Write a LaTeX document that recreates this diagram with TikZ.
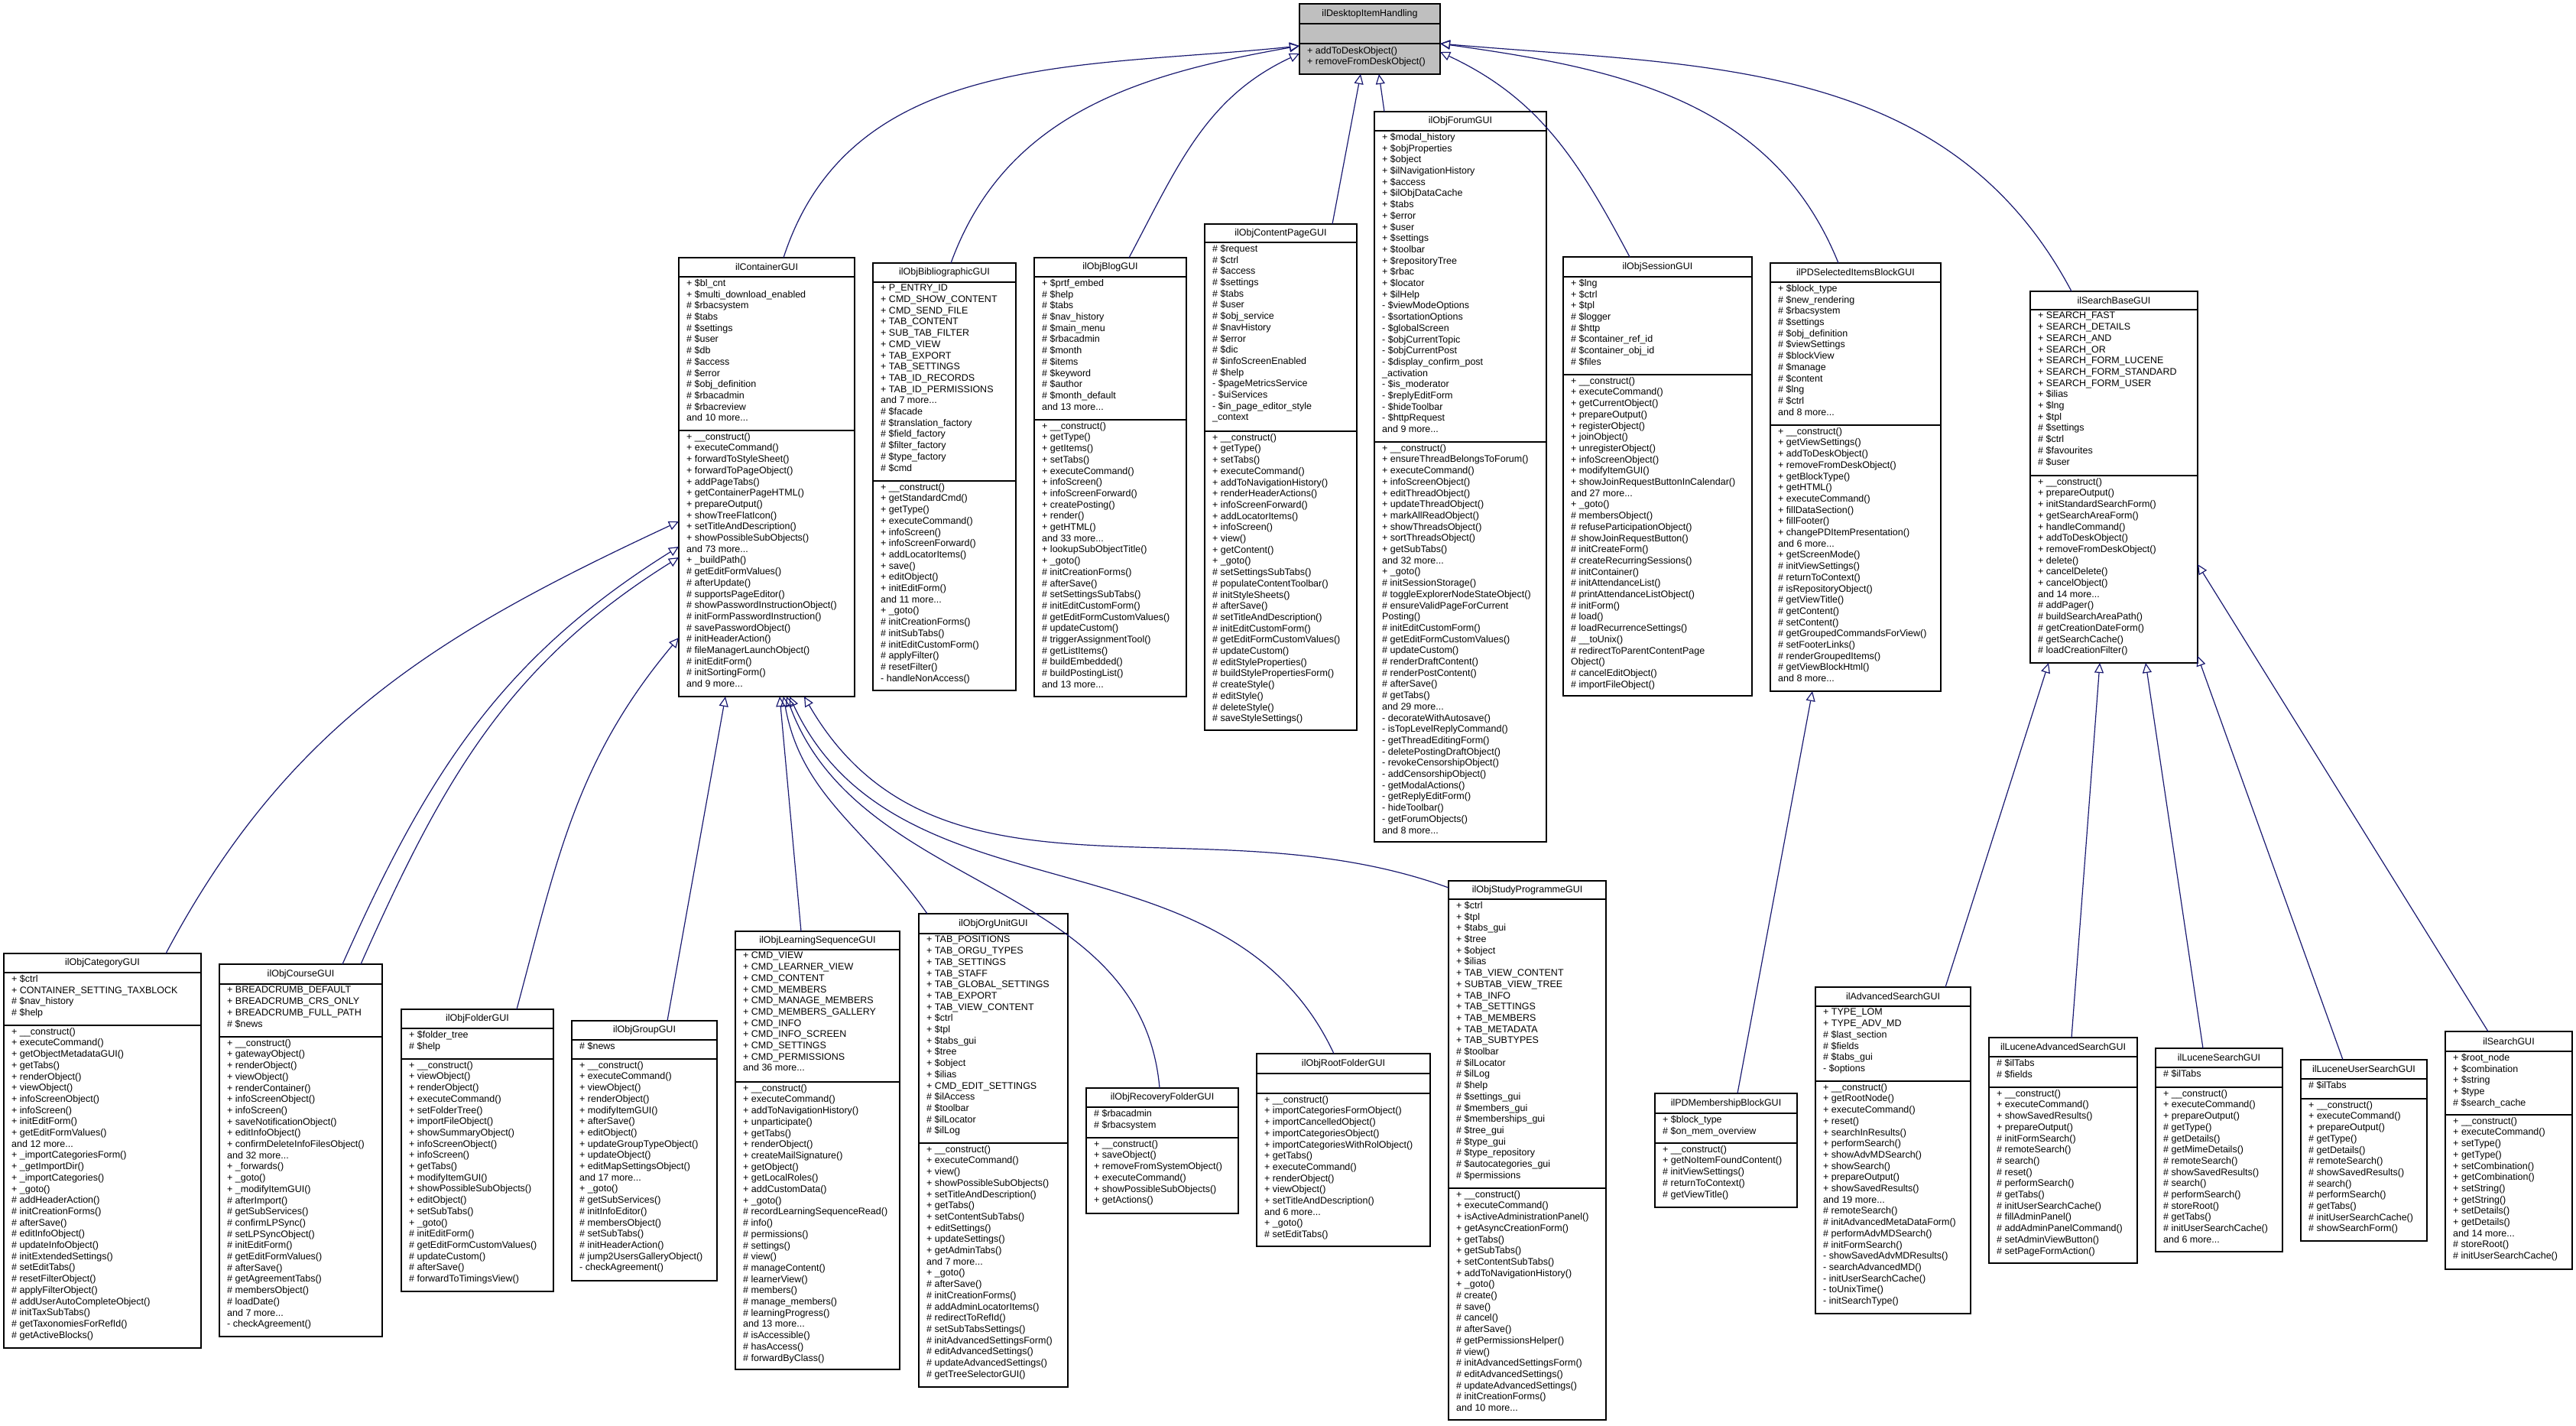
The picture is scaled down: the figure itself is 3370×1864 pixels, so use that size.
\documentclass[tikz,border=0pt]{standalone}
\usepackage{fontspec}
\setmainfont{Liberation Sans}
\usetikzlibrary{arrows.meta}
\definecolor{edgeblue}{HTML}{191970}
\definecolor{topgray}{HTML}{BFBFBF}
\tikzset{
  clsbox/.style={draw=black, line width=1.3pt, fill=white, inner sep=0pt, outer sep=0pt},
  clstitle/.style={inner sep=0pt, font=\fontsize{12.5}{14.7}\selectfont},
  clstext/.style={inner sep=0pt, align=left, anchor=north west, font=\fontsize{12.5}{14.7}\selectfont},
  inh/.style={draw=edgeblue, line width=1.2pt, -{Triangle[open, length=13pt, width=12pt]}}
}
\newcommand\uclass[8]{%
  \node[clsbox, minimum width={(#4-#2)*1pt}, minimum height={(#5-#3)*1pt}, anchor=north west] (#1) at (#2,#3) {};
  \draw[line width=1.3pt] (#2,#6) -- (#4,#6);
  \draw[line width=1.3pt] (#2,#7) -- (#4,#7);
  \node[clstitle] (#1-t) at ({(#2+#4)/2},{(#3+#6)/2}) {#8};
  \coordinate (#1-h) at (#2,#6);
  \coordinate (#1-a) at (#2,#7);
}
\newcommand\utext[3]{%
  \node[clstext] (#1-at) at ([xshift=10pt,yshift=-3pt]#1-h) {#2};
  \node[clstext] (#1-mt) at ([xshift=10pt,yshift=-3pt]#1-a) {#3};
}
\begin{document}
\begin{tikzpicture}[x=1pt,y=-1pt]
\useasboundingbox (0,0) rectangle (3370,1864);

% top class
\node[clsbox, fill=topgray, minimum width=184pt, minimum height=92pt, anchor=north west] (top) at (1700,5) {};
\draw[line width=1.3pt] (1700,31) -- (1884,31);
\draw[line width=1.3pt] (1700,57) -- (1884,57);
\node[clstitle] (top-t) at (1792,18) {ilDesktopItemHandling};
\node[clstext] (top-mt) at (1710,61) {+ addToDeskObject()\\+ removeFromDeskObject()};

% ilContainerGUI
\uclass{cont}{888}{337}{1118}{911}{362}{563}{ilContainerGUI}
\utext{cont}{+ \$bl\_cnt\\+ \$multi\_download\_enabled\\\# \$rbacsystem\\\# \$tabs\\\# \$settings\\\# \$user\\\# \$db\\\# \$access\\\# \$error\\\# \$obj\_definition\\\# \$rbacadmin\\\# \$rbacreview\\and 10 more...}
{+ \_\_construct()\\+ executeCommand()\\+ forwardToStyleSheet()\\+ forwardToPageObject()\\+ addPageTabs()\\+ getContainerPageHTML()\\+ prepareOutput()\\+ showTreeFlatIcon()\\+ setTitleAndDescription()\\+ showPossibleSubObjects()\\and 73 more...\\+ \_buildPath()\\\# getEditFormValues()\\\# afterUpdate()\\\# supportsPageEditor()\\\# showPasswordInstructionObject()\\\# initFormPasswordInstruction()\\\# savePasswordObject()\\\# initHeaderAction()\\\# fileManagerLaunchObject()\\\# initEditForm()\\\# initSortingForm()\\and 9 more...}

% ilObjBibliographicGUI
\uclass{bib}{1142}{344}{1329}{903}{369}{629}{ilObjBibliographicGUI}
\utext{bib}{+ P\_ENTRY\_ID\\+ CMD\_SHOW\_CONTENT\\+ CMD\_SEND\_FILE\\+ TAB\_CONTENT\\+ SUB\_TAB\_FILTER\\+ CMD\_VIEW\\+ TAB\_EXPORT\\+ TAB\_SETTINGS\\+ TAB\_ID\_RECORDS\\+ TAB\_ID\_PERMISSIONS\\and 7 more...\\\# \$facade\\\# \$translation\_factory\\\# \$field\_factory\\\# \$filter\_factory\\\# \$type\_factory\\\# \$cmd}
{+ \_\_construct()\\+ getStandardCmd()\\+ getType()\\+ executeCommand()\\+ infoScreen()\\+ infoScreenForward()\\+ addLocatorItems()\\+ save()\\+ editObject()\\+ initEditForm()\\and 11 more...\\+ \_goto()\\\# initCreationForms()\\\# initSubTabs()\\\# initEditCustomForm()\\\# applyFilter()\\\# resetFilter()\\- handleNonAccess()}

% ilObjBlogGUI
\uclass{blog}{1353}{337}{1552}{911}{362}{549}{ilObjBlogGUI}
\utext{blog}{+ \$prtf\_embed\\\# \$help\\\# \$tabs\\\# \$nav\_history\\\# \$main\_menu\\\# \$rbacadmin\\\# \$month\\\# \$items\\\# \$keyword\\\# \$author\\\# \$month\_default\\and 13 more...}
{+ \_\_construct()\\+ getType()\\+ getItems()\\+ setTabs()\\+ executeCommand()\\+ infoScreen()\\+ infoScreenForward()\\+ createPosting()\\+ render()\\+ getHTML()\\and 33 more...\\+ lookupSubObjectTitle()\\+ \_goto()\\\# initCreationForms()\\\# afterSave()\\\# setSettingsSubTabs()\\\# initEditCustomForm()\\\# getEditFormCustomValues()\\\# updateCustom()\\\# triggerAssignmentTool()\\\# getListItems()\\\# buildEmbedded()\\\# buildPostingList()\\and 13 more...}

% ilObjContentPageGUI
\uclass{cpage}{1576}{293}{1775}{955}{317}{564}{ilObjContentPageGUI}
\utext{cpage}{\# \$request\\\# \$ctrl\\\# \$access\\\# \$settings\\\# \$tabs\\\# \$user\\\# \$obj\_service\\\# \$navHistory\\\# \$error\\\# \$dic\\\# \$infoScreenEnabled\\\# \$help\\- \$pageMetricsService\\- \$uiServices\\- \$in\_page\_editor\_style\\\_context}
{+ \_\_construct()\\+ getType()\\+ setTabs()\\+ executeCommand()\\+ addToNavigationHistory()\\+ renderHeaderActions()\\+ infoScreenForward()\\+ addLocatorItems()\\+ infoScreen()\\+ view()\\+ getContent()\\+ \_goto()\\\# setSettingsSubTabs()\\\# populateContentToolbar()\\\# initStyleSheets()\\\# afterSave()\\\# setTitleAndDescription()\\\# initEditCustomForm()\\\# getEditFormCustomValues()\\\# updateCustom()\\\# editStyleProperties()\\\# buildStylePropertiesForm()\\\# createStyle()\\\# editStyle()\\\# deleteStyle()\\\# saveStyleSettings()}

% ilObjForumGUI
\uclass{forum}{1798}{146}{2023}{1101}{171}{578}{ilObjForumGUI}
\utext{forum}{+ \$modal\_history\\+ \$objProperties\\+ \$object\\+ \$ilNavigationHistory\\+ \$access\\+ \$ilObjDataCache\\+ \$tabs\\+ \$error\\+ \$user\\+ \$settings\\+ \$toolbar\\+ \$repositoryTree\\+ \$rbac\\+ \$locator\\+ \$ilHelp\\- \$viewModeOptions\\- \$sortationOptions\\- \$globalScreen\\- \$objCurrentTopic\\- \$objCurrentPost\\- \$display\_confirm\_post\\\_activation\\- \$is\_moderator\\- \$replyEditForm\\- \$hideToolbar\\- \$httpRequest\\and 9 more...}
{+ \_\_construct()\\+ ensureThreadBelongsToForum()\\+ executeCommand()\\+ infoScreenObject()\\+ editThreadObject()\\+ updateThreadObject()\\+ markAllReadObject()\\+ showThreadsObject()\\+ sortThreadsObject()\\+ getSubTabs()\\and 32 more...\\+ \_goto()\\\# initSessionStorage()\\\# toggleExplorerNodeStateObject()\\\# ensureValidPageForCurrent\\Posting()\\\# initEditCustomForm()\\\# getEditFormCustomValues()\\\# updateCustom()\\\# renderDraftContent()\\\# renderPostContent()\\\# afterSave()\\\# getTabs()\\and 29 more...\\- decorateWithAutosave()\\- isTopLevelReplyCommand()\\- getThreadEditingForm()\\- deletePostingDraftObject()\\- revokeCensorshipObject()\\- addCensorshipObject()\\- getModalActions()\\- getReplyEditForm()\\- hideToolbar()\\- getForumObjects()\\and 8 more...}

% ilObjSessionGUI
\uclass{sess}{2045}{336}{2292}{910}{362}{490}{ilObjSessionGUI}
\utext{sess}{+ \$lng\\+ \$ctrl\\+ \$tpl\\\# \$logger\\\# \$http\\\# \$container\_ref\_id\\\# \$container\_obj\_id\\\# \$files}
{+ \_\_construct()\\+ executeCommand()\\+ getCurrentObject()\\+ prepareOutput()\\+ registerObject()\\+ joinObject()\\+ unregisterObject()\\+ infoScreenObject()\\+ modifyItemGUI()\\+ showJoinRequestButtonInCalendar()\\and 27 more...\\+ \_goto()\\\# membersObject()\\\# refuseParticipationObject()\\\# showJoinRequestButton()\\\# initCreateForm()\\\# createRecurringSessions()\\\# initContainer()\\\# initAttendanceList()\\\# printAttendanceListObject()\\\# initForm()\\\# load()\\\# loadRecurrenceSettings()\\\# \_\_toUnix()\\\# redirectToParentContentPage\\Object()\\\# cancelEditObject()\\\# importFileObject()}

% ilPDSelectedItemsBlockGUI
\uclass{pdsel}{2316}{344}{2539}{904}{369}{556}{ilPDSelectedItemsBlockGUI}
\utext{pdsel}{+ \$block\_type\\\# \$new\_rendering\\\# \$rbacsystem\\\# \$settings\\\# \$obj\_definition\\\# \$viewSettings\\\# \$blockView\\\# \$manage\\\# \$content\\\# \$lng\\\# \$ctrl\\and 8 more...}
{+ \_\_construct()\\+ getViewSettings()\\+ addToDeskObject()\\+ removeFromDeskObject()\\+ getBlockType()\\+ getHTML()\\+ executeCommand()\\+ fillDataSection()\\+ fillFooter()\\+ changePDItemPresentation()\\and 6 more...\\+ getScreenMode()\\\# initViewSettings()\\\# returnToContext()\\\# isRepositoryObject()\\\# getViewTitle()\\\# getContent()\\\# setContent()\\\# getGroupedCommandsForView()\\\# setFooterLinks()\\\# renderGroupedItems()\\\# getViewBlockHtml()\\and 8 more...}

% ilSearchBaseGUI
\uclass{sbase}{2656}{381}{2875}{867}{405}{622}{ilSearchBaseGUI}
\utext{sbase}{+ SEARCH\_FAST\\+ SEARCH\_DETAILS\\+ SEARCH\_AND\\+ SEARCH\_OR\\+ SEARCH\_FORM\_LUCENE\\+ SEARCH\_FORM\_STANDARD\\+ SEARCH\_FORM\_USER\\+ \$ilias\\+ \$lng\\+ \$tpl\\\# \$settings\\\# \$ctrl\\\# \$favourites\\\# \$user}
{+ \_\_construct()\\+ prepareOutput()\\+ initStandardSearchForm()\\+ getSearchAreaForm()\\+ handleCommand()\\+ addToDeskObject()\\+ removeFromDeskObject()\\+ delete()\\+ cancelDelete()\\+ cancelObject()\\and 14 more...\\\# addPager()\\\# buildSearchAreaPath()\\\# getCreationDateForm()\\\# getSearchCache()\\\# loadCreationFilter()}

% ilObjCategoryGUI
\uclass{cat}{5}{1247}{263}{1763}{1272}{1341}{ilObjCategoryGUI}
\utext{cat}{+ \$ctrl\\+ CONTAINER\_SETTING\_TAXBLOCK\\\# \$nav\_history\\\# \$help}
{+ \_\_construct()\\+ executeCommand()\\+ getObjectMetadataGUI()\\+ getTabs()\\+ renderObject()\\+ viewObject()\\+ infoScreenObject()\\+ infoScreen()\\+ initEditForm()\\+ getEditFormValues()\\and 12 more...\\+ \_importCategoriesForm()\\+ \_getImportDir()\\+ \_importCategories()\\+ \_goto()\\\# addHeaderAction()\\\# initCreationForms()\\\# afterSave()\\\# editInfoObject()\\\# updateInfoObject()\\\# initExtendedSettings()\\\# setEditTabs()\\\# resetFilterObject()\\\# applyFilterObject()\\\# addUserAutoCompleteObject()\\\# initTaxSubTabs()\\\# getTaxonomiesForRefId()\\\# getActiveBlocks()}

% ilObjCourseGUI
\uclass{crs}{287}{1261}{500}{1748}{1287}{1356}{ilObjCourseGUI}
\utext{crs}{+ BREADCRUMB\_DEFAULT\\+ BREADCRUMB\_CRS\_ONLY\\+ BREADCRUMB\_FULL\_PATH\\\# \$news}
{+ \_\_construct()\\+ gatewayObject()\\+ renderObject()\\+ viewObject()\\+ renderContainer()\\+ infoScreenObject()\\+ infoScreen()\\+ saveNotificationObject()\\+ editInfoObject()\\+ confirmDeleteInfoFilesObject()\\and 32 more...\\+ \_forwards()\\+ \_goto()\\+ \_modifyItemGUI()\\\# afterImport()\\\# getSubServices()\\\# confirmLPSync()\\\# setLPSyncObject()\\\# initEditForm()\\\# getEditFormValues()\\\# afterSave()\\\# getAgreementTabs()\\\# membersObject()\\\# loadDate()\\and 7 more...\\- checkAgreement()}

% ilObjFolderGUI
\uclass{fold}{525}{1320}{724}{1689}{1345}{1385}{ilObjFolderGUI}
\utext{fold}{+ \$folder\_tree\\\# \$help}
{+ \_\_construct()\\+ viewObject()\\+ renderObject()\\+ executeCommand()\\+ setFolderTree()\\+ importFileObject()\\+ showSummaryObject()\\+ infoScreenObject()\\+ infoScreen()\\+ getTabs()\\+ modifyItemGUI()\\+ showPossibleSubObjects()\\+ editObject()\\+ setSubTabs()\\+ \_goto()\\\# initEditForm()\\\# getEditFormCustomValues()\\\# updateCustom()\\\# afterSave()\\\# forwardToTimingsView()}

% ilObjGroupGUI
\uclass{grp}{748}{1335}{938}{1675}{1360}{1385}{ilObjGroupGUI}
\utext{grp}{\# \$news}
{+ \_\_construct()\\+ executeCommand()\\+ viewObject()\\+ renderObject()\\+ modifyItemGUI()\\+ afterSave()\\+ editObject()\\+ updateGroupTypeObject()\\+ updateObject()\\+ editMapSettingsObject()\\and 17 more...\\+ \_goto()\\\# getSubServices()\\\# initInfoEditor()\\\# membersObject()\\\# setSubTabs()\\\# initHeaderAction()\\\# jump2UsersGalleryObject()\\- checkAgreement()}

% ilObjLearningSequenceGUI
\uclass{lseq}{962}{1218}{1177}{1791}{1242}{1415}{ilObjLearningSequenceGUI}
\utext{lseq}{+ CMD\_VIEW\\+ CMD\_LEARNER\_VIEW\\+ CMD\_CONTENT\\+ CMD\_MEMBERS\\+ CMD\_MANAGE\_MEMBERS\\+ CMD\_MEMBERS\_GALLERY\\+ CMD\_INFO\\+ CMD\_INFO\_SCREEN\\+ CMD\_SETTINGS\\+ CMD\_PERMISSIONS\\and 36 more...}
{+ \_\_construct()\\+ executeCommand()\\+ addToNavigationHistory()\\+ unparticipate()\\+ getTabs()\\+ renderObject()\\+ createMailSignature()\\+ getObject()\\+ getLocalRoles()\\+ addCustomData()\\+ \_goto()\\\# recordLearningSequenceRead()\\\# info()\\\# permissions()\\\# settings()\\\# view()\\\# manageContent()\\\# learnerView()\\\# members()\\\# manage\_members()\\\# learningProgress()\\and 13 more...\\\# isAccessible()\\\# hasAccess()\\\# forwardByClass()}

% ilObjOrgUnitGUI
\uclass{orgu}{1202}{1195}{1397}{1814}{1221}{1495}{ilObjOrgUnitGUI}
\utext{orgu}{+ TAB\_POSITIONS\\+ TAB\_ORGU\_TYPES\\+ TAB\_SETTINGS\\+ TAB\_STAFF\\+ TAB\_GLOBAL\_SETTINGS\\+ TAB\_EXPORT\\+ TAB\_VIEW\_CONTENT\\+ \$ctrl\\+ \$tpl\\+ \$tabs\_gui\\+ \$tree\\+ \$object\\+ \$ilias\\+ CMD\_EDIT\_SETTINGS\\\# \$ilAccess\\\# \$toolbar\\\# \$ilLocator\\\# \$ilLog}
{+ \_\_construct()\\+ executeCommand()\\+ view()\\+ showPossibleSubObjects()\\+ setTitleAndDescription()\\+ getTabs()\\+ setContentSubTabs()\\+ editSettings()\\+ updateSettings()\\+ getAdminTabs()\\and 7 more...\\+ \_goto()\\\# afterSave()\\\# initCreationForms()\\\# addAdminLocatorItems()\\\# redirectToRefId()\\\# setSubTabsSettings()\\\# initAdvancedSettingsForm()\\\# editAdvancedSettings()\\\# updateAdvancedSettings()\\\# getTreeSelectorGUI()}

% ilObjRecoveryFolderGUI
\uclass{recov}{1421}{1423}{1620}{1587}{1448}{1488}{ilObjRecoveryFolderGUI}
\utext{recov}{\# \$rbacadmin\\\# \$rbacsystem}
{+ \_\_construct()\\+ saveObject()\\+ removeFromSystemObject()\\+ executeCommand()\\+ showPossibleSubObjects()\\+ getActions()}

% ilObjRootFolderGUI
\uclass{root}{1644}{1378}{1871}{1630}{1404}{1430}{ilObjRootFolderGUI}
\utext{root}{}
{+ \_\_construct()\\+ importCategoriesFormObject()\\+ importCancelledObject()\\+ importCategoriesObject()\\+ importCategoriesWithRolObject()\\+ getTabs()\\+ executeCommand()\\+ renderObject()\\+ viewObject()\\+ setTitleAndDescription()\\and 6 more...\\+ \_goto()\\\# setEditTabs()}

% ilObjStudyProgrammeGUI
\uclass{prg}{1895}{1152}{2101}{1857}{1176}{1554}{ilObjStudyProgrammeGUI}
\utext{prg}{+ \$ctrl\\+ \$tpl\\+ \$tabs\_gui\\+ \$tree\\+ \$object\\+ \$ilias\\+ TAB\_VIEW\_CONTENT\\+ SUBTAB\_VIEW\_TREE\\+ TAB\_INFO\\+ TAB\_SETTINGS\\+ TAB\_MEMBERS\\+ TAB\_METADATA\\+ TAB\_SUBTYPES\\\# \$toolbar\\\# \$ilLocator\\\# \$ilLog\\\# \$help\\\# \$settings\_gui\\\# \$members\_gui\\\# \$memberships\_gui\\\# \$tree\_gui\\\# \$type\_gui\\\# \$type\_repository\\\# \$autocategories\_gui\\\# \$permissions}
{+ \_\_construct()\\+ executeCommand()\\+ isActiveAdministrationPanel()\\+ getAsyncCreationForm()\\+ getTabs()\\+ getSubTabs()\\+ setContentSubTabs()\\+ addToNavigationHistory()\\+ \_goto()\\\# create()\\\# save()\\\# cancel()\\\# afterSave()\\\# getPermissionsHelper()\\\# view()\\\# initAdvancedSettingsForm()\\\# editAdvancedSettings()\\\# updateAdvancedSettings()\\\# initCreationForms()\\and 10 more...}

% ilPDMembershipBlockGUI
\uclass{pdmem}{2165}{1430}{2351}{1579}{1456}{1495}{ilPDMembershipBlockGUI}
\utext{pdmem}{+ \$block\_type\\\# \$on\_mem\_overview}
{+ \_\_construct()\\+ getNoItemFoundContent()\\\# initViewSettings()\\\# returnToContext()\\\# getViewTitle()}

% ilAdvancedSearchGUI
\uclass{adv}{2375}{1291}{2578}{1718}{1316}{1414}{ilAdvancedSearchGUI}
\utext{adv}{+ TYPE\_LOM\\+ TYPE\_ADV\_MD\\\# \$last\_section\\\# \$fields\\\# \$tabs\_gui\\- \$options}
{+ \_\_construct()\\+ getRootNode()\\+ executeCommand()\\+ reset()\\+ searchInResults()\\+ performSearch()\\+ showAdvMDSearch()\\+ showSearch()\\+ prepareOutput()\\+ showSavedResults()\\and 19 more...\\\# remoteSearch()\\\# initAdvancedMetaDataForm()\\\# performAdvMDSearch()\\\# initFormSearch()\\- showSavedAdvMDResults()\\- searchAdvancedMD()\\- initUserSearchCache()\\- toUnixTime()\\- initSearchType()}

% ilLuceneAdvancedSearchGUI
\uclass{ladv}{2602}{1357}{2796}{1652}{1382}{1422}{ilLuceneAdvancedSearchGUI}
\utext{ladv}{\# \$ilTabs\\\# \$fields}
{+ \_\_construct()\\+ executeCommand()\\+ showSavedResults()\\+ prepareOutput()\\\# initFormSearch()\\\# remoteSearch()\\\# search()\\\# reset()\\\# performSearch()\\\# getTabs()\\\# initUserSearchCache()\\\# fillAdminPanel()\\\# addAdminPanelCommand()\\\# setAdminViewButton()\\\# setPageFormAction()}

% ilLuceneSearchGUI
\uclass{lsea}{2820}{1371}{2986}{1637}{1396}{1422}{ilLuceneSearchGUI}
\utext{lsea}{\# \$ilTabs}
{+ \_\_construct()\\+ executeCommand()\\+ prepareOutput()\\\# getType()\\\# getDetails()\\\# getMimeDetails()\\\# remoteSearch()\\\# showSavedResults()\\\# search()\\\# performSearch()\\\# storeRoot()\\\# getTabs()\\\# initUserSearchCache()\\and 6 more...}

% ilLuceneUserSearchGUI
\uclass{luser}{3010}{1386}{3175}{1623}{1411}{1437}{ilLuceneUserSearchGUI}
\utext{luser}{\# \$ilTabs}
{+ \_\_construct()\\+ executeCommand()\\+ prepareOutput()\\\# getType()\\\# getDetails()\\\# remoteSearch()\\\# showSavedResults()\\\# search()\\\# performSearch()\\\# getTabs()\\\# initUserSearchCache()\\\# showSearchForm()}

% ilSearchGUI
\uclass{sgui}{3199}{1349}{3365}{1660}{1375}{1458}{ilSearchGUI}
\utext{sgui}{+ \$root\_node\\+ \$combination\\+ \$string\\+ \$type\\\# \$search\_cache}
{+ \_\_construct()\\+ executeCommand()\\+ setType()\\+ getType()\\+ setCombination()\\+ getCombination()\\+ setString()\\+ getString()\\+ setDetails()\\+ getDetails()\\and 14 more...\\\# storeRoot()\\\# initUserSearchCache()}

% ---- inheritance edges ----
\draw[inh] ([xshift=137pt]cont.north west) to[out=72,in=186] ([yshift=-9pt]top.west);
\draw[inh] ([xshift=102pt]bib.north west) to[out=70,in=190] ([yshift=-9pt]top.west);
\draw[inh] ([xshift=124pt]blog.north west) to[out=62,in=205] ([yshift=-19pt]top.west);
\draw[inh] ([xshift=167pt]cpage.north west) -- ([xshift=-12pt]top.south);
\draw[inh] ([xshift=13pt]forum.north west) -- ([xshift=12pt]top.south);
\draw[inh] ([xshift=87pt]sess.north west) to[out=118,in=-25] ([yshift=-17pt]top.east);
\draw[inh] ([xshift=89pt]pdsel.north west) to[out=112,in=-8] ([yshift=-6pt]top.east);
\draw[inh] ([xshift=54pt]sbase.north west) to[out=118,in=-5] ([yshift=-6pt]top.east);

\draw[inh] ([xshift=212pt]cat.north west) to[out=62,in=205] ([yshift=-58pt]cont.west);
\draw[inh] ([xshift=161pt]crs.north west) to[out=66,in=212] ([yshift=-91pt]cont.west);
\draw[inh] ([xshift=185pt]crs.north west) to[out=66,in=212] ([yshift=-105pt]cont.west);
\draw[inh] ([xshift=151pt]fold.north west) to[out=75,in=230] ([yshift=-210pt]cont.west);
\draw[inh] ([xshift=125pt]grp.north west) -- ([xshift=61pt]cont.south west);
\draw[inh] ([xshift=86pt]lseq.north west) -- ([xshift=132pt]cont.south west);
\draw[inh] ([xshift=11pt]orgu.north west) to[out=125,in=-80] ([xshift=137pt]cont.south west);
\draw[inh] ([xshift=96pt]recov.north west) to[out=95,in=-70] ([xshift=141pt]cont.south west);
\draw[inh] ([xshift=101pt]root.north west) to[out=115,in=-65] ([xshift=145pt]cont.south west);
\draw[inh] ([yshift=-9pt]prg.north west) to[out=160,in=-60] ([xshift=164pt]cont.south west);

\draw[inh] ([xshift=108pt]pdmem.north west) -- ([xshift=55pt]pdsel.south west);

\draw[inh] ([xshift=170pt]adv.north west) -- ([xshift=24pt]sbase.south west);
\draw[inh] ([xshift=108pt]ladv.north west) -- ([xshift=91pt]sbase.south west);
\draw[inh] ([xshift=62pt]lsea.north west) -- ([xshift=151pt]sbase.south west);
\draw[inh] ([xshift=55pt]luser.north west) -- ([yshift=-234pt]sbase.east);
\draw[inh] ([xshift=56pt]sgui.north west) -- ([yshift=-114pt]sbase.east);
\end{tikzpicture}
\end{document}
